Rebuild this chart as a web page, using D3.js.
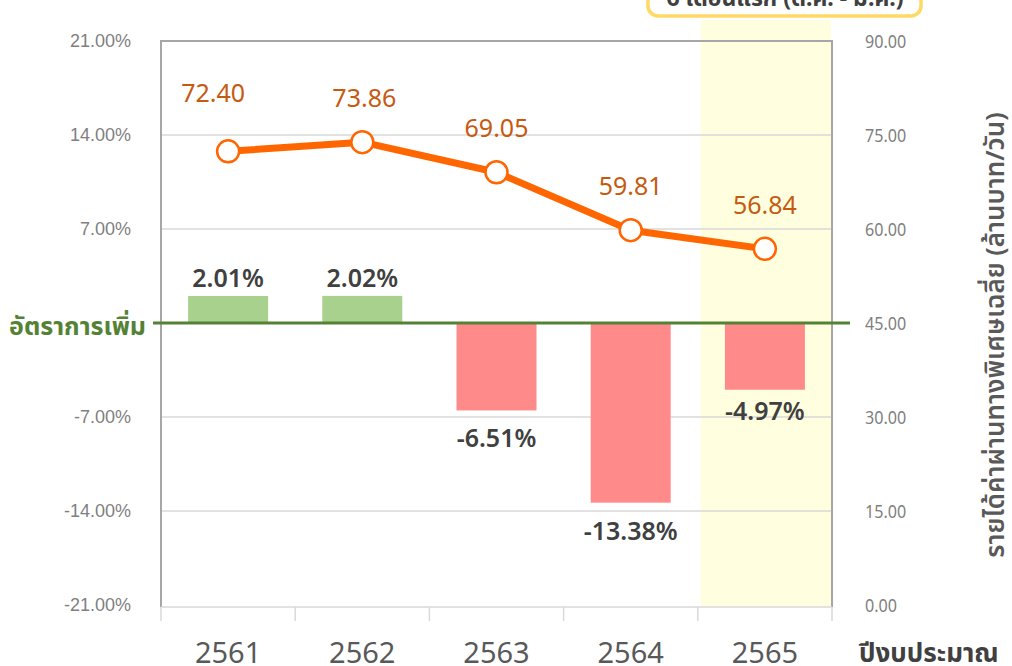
<!DOCTYPE html>
<html><head><meta charset="utf-8">
<script src="https://cdn.jsdelivr.net/npm/d3@7"></script>
<style>
body{margin:0;background:#fff;}
svg{display:block;font-family:"Noto Sans","Noto Sans Thai",sans-serif;}
</style></head>
<body><svg id="c" width="1012" height="666"></svg>
<script>
const years = ["2561","2562","2563","2564","2565"];
const growthPct = [2.01, 2.02, -6.51, -13.38, -4.97];
const revenue = [72.40, 73.86, 69.05, 59.81, 56.84];
const leftTicks = [-21,-14,-7,7,14,21];
const gridTicks = [-14,-7,7,14];
const rightTicks = [0,15,30,45,60,75,90];
const highlightYear = "2565";
const highlightNote = "6 เดือนแรก (ต.ค. - มี.ค.)";
const zeroLabel = "อัตราการเพิ่ม";
const xTitle = "ปีงบประมาณ";
const yRightTitle = "รายได้ค่าผ่านทางพิเศษเฉลี่ย (ล้านบาท/วัน)";

const svg = d3.select("#c");
const L=161,R=832,T=41,B=605;
const x = d3.scaleBand().domain(years).range([L,R]).paddingInner(0).paddingOuter(0);
const yL = d3.scaleLinear().domain([-21,21]).range([B,T]);
const yR = d3.scaleLinear().domain([0,90]).range([B,T]);

// highlight band
svg.append("rect").attr("x",x(highlightYear)+3).attr("y",20).attr("width",x.bandwidth()-4).attr("height",B+2-20).attr("fill","#ffffe0");

// gridlines
svg.append("g").selectAll("line").data(gridTicks).join("line")
 .attr("x1",L).attr("x2",R).attr("y1",d=>yL(d)).attr("y2",d=>yL(d)).attr("stroke","#d9d9d9").attr("stroke-width",1.5);

// plot border
svg.append("path").attr("d",`M${L},${B+2}V${T}H${R}V${B+2}`).attr("fill","none").attr("stroke","#a6a6a6").attr("stroke-width",2);
svg.append("line").attr("x1",L).attr("x2",R).attr("y1",B+2).attr("y2",B+2).attr("stroke","#d9d9d9").attr("stroke-width",1.5);

// category ticks
const bounds = years.map(d=>x(d)).concat([R]);
svg.append("g").selectAll("line").data(bounds).join("line")
 .attr("x1",d=>d).attr("x2",d=>d).attr("y1",B+2).attr("y2",B+16).attr("stroke","#d9d9d9").attr("stroke-width",1.5);

// left axis labels
const axL = d3.axisLeft(yL).tickValues(leftTicks).tickFormat(d=>d.toFixed(2)+"%").tickSize(0).tickPadding(30);
const gL = svg.append("g").attr("transform",`translate(${L},0)`).call(axL);
gL.select(".domain").remove();
gL.selectAll("text").attr("fill","#7f7f7f").attr("font-size",18).attr("font-family","Liberation Sans, Arial, sans-serif");

// right axis labels
const axR = d3.axisRight(yR).tickValues(rightTicks).tickFormat(d=>d.toFixed(2)).tickSize(0).tickPadding(33);
const gR = svg.append("g").attr("transform",`translate(${R},0)`).call(axR);
gR.select(".domain").remove();
gR.selectAll("text").attr("fill","#7f7f7f").attr("font-size",19).attr("font-family","Noto Sans, sans-serif").attr("transform","scale(0.85,1)").attr("x",33/0.85);

// bars
const bw = 80;
svg.append("g").selectAll("rect").data(years).join("rect")
 .attr("x",(d)=>x(d)+x.bandwidth()/2-bw/2)
 .attr("width",bw)
 .attr("y",(d,i)=>yL(Math.max(0,growthPct[i])))
 .attr("height",(d,i)=>Math.abs(yL(growthPct[i])-yL(0)))
 .attr("fill",(d,i)=>growthPct[i]>=0?"#a9d18e":"#ff8a8a");

// bar labels
svg.append("g").selectAll("text").data(years).join("text")
 .attr("x",d=>x(d)+x.bandwidth()/2)
 .attr("y",(d,i)=>growthPct[i]>=0? yL(growthPct[i])-9 : yL(growthPct[i])+ (i===4?30:37))
 .attr("text-anchor","middle").attr("font-size",25).attr("font-weight",600).attr("fill","#404040")
 .text((d,i)=>growthPct[i].toFixed(2)+"%");

// zero line
svg.append("line").attr("x1",153).attr("x2",850).attr("y1",yL(0)).attr("y2",yL(0)).attr("stroke","#548235").attr("stroke-width",3);
svg.append("text").attr("x",146).attr("y",yL(0)+12).attr("text-anchor","end").attr("font-size",25).attr("font-weight","bold").attr("fill","#548235").text(zeroLabel);

// line
const line = d3.line().x((d,i)=>x(years[i])+x.bandwidth()/2).y(d=>yR(d));
svg.append("path").datum(revenue).attr("d",line).attr("fill","none").attr("stroke","#ff6600").attr("stroke-width",7).attr("stroke-linejoin","round");
svg.append("g").selectAll("circle").data(revenue).join("circle")
 .attr("cx",(d,i)=>x(years[i])+x.bandwidth()/2).attr("cy",d=>yR(d)).attr("r",11)
 .attr("fill","#fff").attr("stroke","#ff6600").attr("stroke-width",2.5);
svg.append("g").selectAll("text").data(revenue).join("text")
 .attr("x",(d,i)=>x(years[i])+x.bandwidth()/2-(i===0?15:(i===1?-2:0)))
 .attr("y",(d,i)=>yR(d)-(i===0?49:35))
 .attr("text-anchor","middle").attr("font-size",25).attr("fill","#c55a11")
 .text(d=>d.toFixed(2));

// x labels
svg.append("g").selectAll("text").data(years).join("text")
 .attr("x",d=>x(d)+x.bandwidth()/2).attr("y",663)
 .attr("text-anchor","middle").attr("font-size",29).attr("fill","#595959")
 .text(d=>d);

svg.append("text").attr("x",859).attr("y",662).attr("font-size",26).attr("font-weight","bold").attr("fill","#404040").text(xTitle);

// right title
svg.append("text").attr("transform","translate(1004,335) rotate(-90)").attr("text-anchor","middle")
 .attr("font-size",26).attr("font-weight",600).attr("fill","#595959").text(yRightTitle);

// top note box
svg.append("rect").attr("x",648).attr("y",-22).attr("width",273).attr("height",38).attr("rx",10)
 .attr("fill","#fff").attr("stroke","#ffd966").attr("stroke-width",3.5);
svg.append("text").attr("x",785).attr("y",6).attr("text-anchor","middle").attr("font-size",23).attr("font-weight","bold").attr("fill","#404040").text(highlightNote);
</script></body></html>
